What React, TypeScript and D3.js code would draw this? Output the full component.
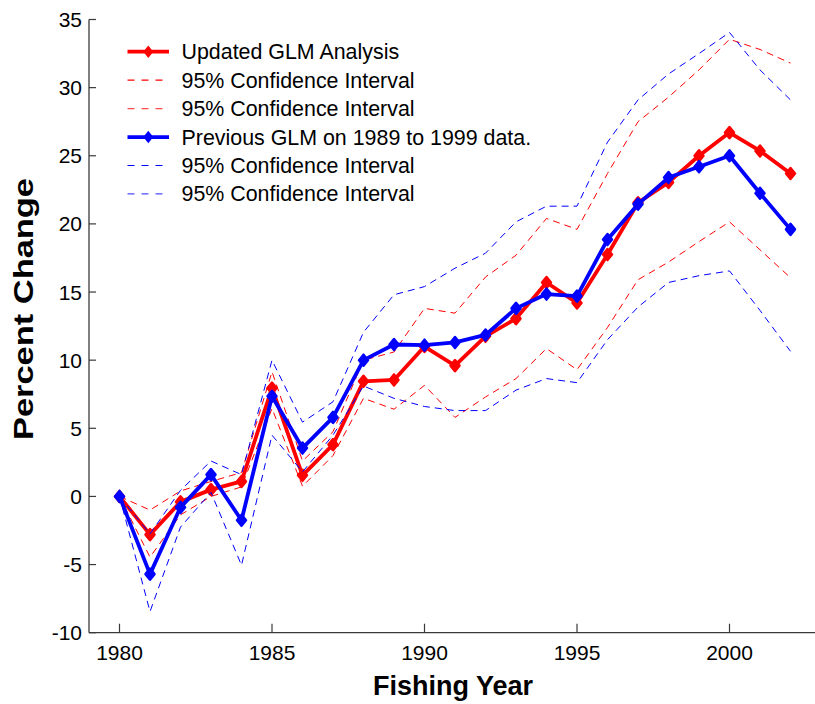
import React from "react";
import * as d3 from "d3";

const years = d3.range(1980, 2003);
const updated = [0, -2.8, -0.4, 0.5, 1.1, 7.95, 1.55, 3.8, 8.45, 8.55, 11.0, 9.6, 11.75, 13.05, 15.7, 14.2, 17.75, 21.55, 23.05, 25.0, 26.7, 25.35, 23.7];
const updatedUpper = [0, -1.0, 0.4, 1.1, 1.75, 9.15, 2.6, 4.75, 10.0, 10.6, 13.8, 13.45, 16.1, 17.7, 20.4, 19.6, 23.7, 27.5, 29.3, 31.3, 33.55, 32.8, 31.8];
const updatedLower = [0, -4.45, -1.35, 0.0, 0.7, 6.45, 0.75, 3.0, 7.2, 6.4, 8.15, 5.8, 7.3, 8.65, 10.85, 9.3, 12.4, 15.9, 17.2, 18.7, 20.15, 18.1, 16.05];
const previous = [0, -5.7, -0.8, 1.6, -1.75, 7.35, 3.55, 5.8, 10.0, 11.15, 11.1, 11.3, 11.85, 13.8, 14.85, 14.7, 18.85, 21.45, 23.4, 24.2, 25.0, 22.25, 19.6];
const previousUpper = [0, -2.75, 0.45, 2.6, 1.6, 10.0, 5.45, 6.95, 12.05, 14.8, 15.4, 16.75, 17.85, 20.15, 21.3, 21.3, 26.0, 29.1, 31.0, 32.5, 34.05, 31.3, 29.1];
const previousLower = [0, -8.45, -2.25, 0.3, -5.05, 4.5, 1.8, 4.5, 8.1, 7.2, 6.6, 6.3, 6.3, 7.8, 8.65, 8.35, 11.5, 13.9, 15.7, 16.2, 16.55, 13.65, 10.65];

const xTicks = [1980, 1985, 1990, 1995, 2000];
const yTicks = [-10, -5, 0, 5, 10, 15, 20, 25, 30, 35];
const legendLabels = [
  "Updated GLM Analysis",
  "95% Confidence Interval",
  "95% Confidence Interval",
  "Previous GLM on 1989 to 1999 data.",
  "95% Confidence Interval",
  "95% Confidence Interval",
];

const RED = "#ff0000";
const BLUE = "#0000ff";
const FONT = "'Liberation Sans', Arial, sans-serif";

export default function App() {
  const W = 815, H = 704;
  const x = d3.scaleLinear().domain([1979, 2003]).range([89, 821]);
  const y = d3.scaleLinear().domain([-10, 35]).range([632.7, 19.5]);
  const line = d3.line<number>().x((_, i) => x(years[i])).y((d) => y(d));

  const series = [
    { data: updated, color: RED, main: true },
    { data: updatedUpper, color: RED, main: false },
    { data: updatedLower, color: RED, main: false },
    { data: previous, color: BLUE, main: true },
    { data: previousUpper, color: BLUE, main: false },
    { data: previousLower, color: BLUE, main: false },
  ];

  const diamond = (cx: number, cy: number, hw: number, hh: number) =>
    `M${cx},${cy - hh}L${cx + hw},${cy}L${cx},${cy + hh}L${cx - hw},${cy}Z`;

  const axisColor = "#3a3a3a";
  const x0 = 89, yBottom = 632.7;

  return (
    <svg width={W} height={H} style={{ position: "absolute", left: 0, top: 0, background: "#fff" }} fontFamily={FONT}>
      <rect x={0} y={0} width={W} height={H} fill="#fff" />
      {/* axes */}
      <line x1={x0} x2={W} y1={yBottom} y2={yBottom} stroke={axisColor} strokeWidth={1.3} />
      <line x1={x0} x2={x0} y1={y(35)} y2={yBottom} stroke={axisColor} strokeWidth={1.3} />
      {xTicks.map((t) => (
        <g key={"xt" + t}>
          <line x1={x(t)} x2={x(t)} y1={yBottom} y2={yBottom - 9} stroke={axisColor} strokeWidth={1.2} />
          <text x={x(t)} y={660} textAnchor="middle" fontSize={21} fill="#000">{t}</text>
        </g>
      ))}
      {yTicks.map((t) => (
        <g key={"yt" + t}>
          <line x1={x0} x2={x0 + 7} y1={y(t)} y2={y(t)} stroke={axisColor} strokeWidth={1.2} />
          <text x={82} y={y(t) + 7.5} textAnchor="end" fontSize={21} fill="#000">{t}</text>
        </g>
      ))}
      <text x={453} y={695} textAnchor="middle" fontSize={27} fontWeight="bold" fill="#000">Fishing Year</text>
      <text transform={`translate(33,309) rotate(-90)`} textAnchor="middle" fontSize={28} fontWeight="bold" fill="#000" textLength={262} lengthAdjust="spacingAndGlyphs">Percent Change</text>

      {/* series */}
      {series.map((s, si) => (
        <g key={"s" + si}>
          <path
            d={line(s.data) || ""}
            fill="none"
            stroke={s.color}
            strokeWidth={s.main ? 3.8 : 1}
            strokeDasharray={s.main ? undefined : "7,5"}
            strokeLinejoin="round"
          />
          {s.main &&
            s.data.map((v, i) => (
              <path key={i} d={diamond(x(years[i]), y(v), 4.5, 5.5)} fill={s.color} stroke={s.color} strokeWidth={2.5} strokeLinejoin="round" />
            ))}
        </g>
      ))}

      {/* legend */}
      {legendLabels.map((lab, i) => {
        const ry = 51.7 + i * 28.45;
        const s = series[i];
        return (
          <g key={"lg" + i}>
            <line x1={127.5} x2={169} y1={ry} y2={ry} stroke={s.color} strokeWidth={s.main ? 3.8 : 1.2} strokeDasharray={s.main ? undefined : "7,7"} opacity={!s.main && i % 3 === 2 ? 0.7 : 1} />
            {s.main && <path d={diamond(148.3, ry, 4, 5)} fill={s.color} stroke={s.color} strokeWidth={1.5} />}
            <text x={181.5} y={ry + 7.5} fontSize={21.4} fill="#000">{lab}</text>
          </g>
        );
      })}
    </svg>
  );
}
